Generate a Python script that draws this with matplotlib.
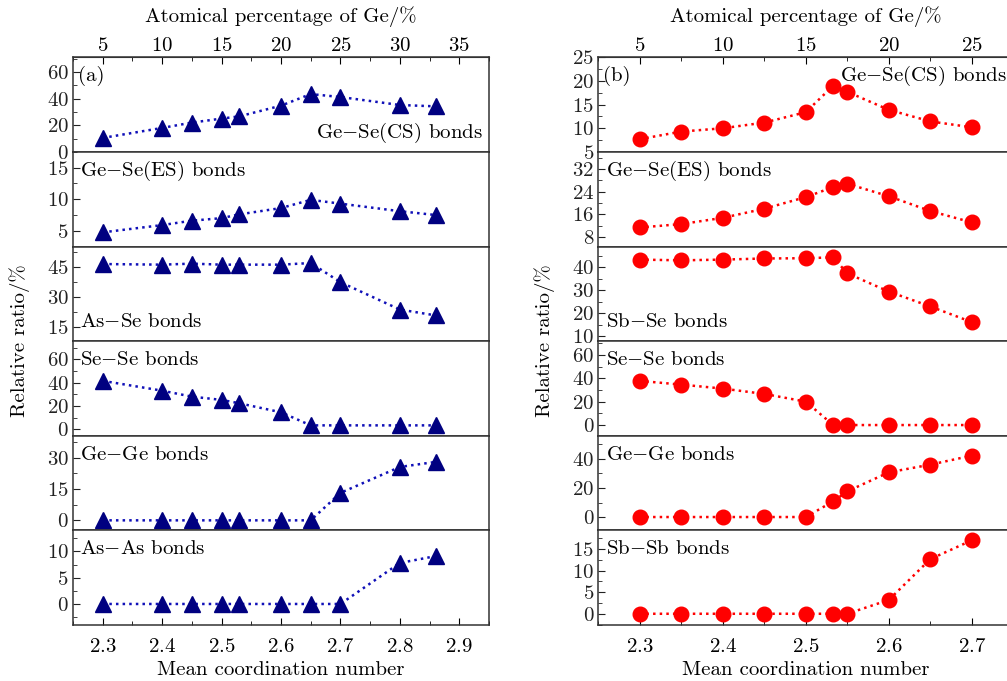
import matplotlib
matplotlib.use("Agg")
import matplotlib.pyplot as plt
from matplotlib.ticker import AutoMinorLocator, MultipleLocator

plt.rcParams['font.family'] = 'cmr10'
plt.rcParams['mathtext.fontset'] = 'cm'
plt.rcParams['axes.formatter.use_mathtext'] = True
plt.rcParams['font.size'] = 15

# panel (a): Ge-As-Se
z_a = [2.3, 2.4, 2.45, 2.5, 2.53, 2.6, 2.65, 2.7, 2.8, 2.86]
gese_cs_a = [10.5, 18, 22, 25, 26.7, 34.7, 43.4, 41.2, 35.2, 34.2]
gese_es_a = [4.75, 5.9, 6.6, 7.0, 7.6, 8.6, 9.9, 9.3, 8.1, 7.5]
asse_a = [46.3, 46, 46.5, 46, 46, 46, 46.8, 37.3, 23.7, 20.8]
sese_a = [41.5, 33.1, 28, 25.2, 22.3, 14.6, 3.4, 3.4, 3.4, 3.4]
gege_a = [0, 0, 0, 0, 0, 0, 0, 13.1, 25.5, 27.9]
asas_a = [0, 0, 0, 0, 0, 0, 0, 0, 7.8, 9.1]

# panel (b): Ge-Sb-Se
z_b = [2.3, 2.35, 2.4, 2.45, 2.5, 2.533, 2.55, 2.6, 2.65, 2.7]
gese_cs_b = [7.7, 9.3, 10.0, 11.2, 13.4, 19.0, 17.7, 13.9, 11.45, 10.2]
gese_es_b = [11.4, 12.6, 14.8, 18.0, 22.1, 25.6, 26.8, 22.4, 17.2, 13.2]
sbse_b = [43.3, 43.0, 43.3, 43.8, 43.9, 44.3, 37.3, 29.4, 22.9, 16.1]
sese_b = [37.9, 34.7, 31.3, 26.7, 20.1, 0, 0, 0, 0, 0]
gege_b = [0, 0, 0, 0, 0, 10.8, 17.7, 30.8, 36.1, 42.3]
sbsb_b = [0, 0, 0, 0, 0, 0, 0, 3.2, 12.65, 17.0]

labels_a = [r"Ge$-$Se(CS) bonds", r"Ge$-$Se(ES) bonds", r"As$-$Se bonds",
            r"Se$-$Se bonds", r"Ge$-$Ge bonds", r"As$-$As bonds"]
labels_b = [r"Ge$-$Se(CS) bonds", r"Ge$-$Se(ES) bonds", r"Sb$-$Se bonds",
            r"Se$-$Se bonds", r"Ge$-$Ge bonds", r"Sb$-$Sb bonds"]

ylims_a = [(0, 71), (2.5, 17.5), (8, 55), (-5.5, 75.5), (-4.8, 40.4), (-4, 14)]
yticks_a = [20, 5, 15, 20, 15, 5]
ylims_b = [(5, 25), (4.7, 38), (7.8, 49), (-9.2, 72), (-9.2, 56), (-2.6, 19.3)]
yticks_b = [5, 8, 10, 20, 20, 5]

ge_top_a = [5, 10, 15, 20, 25, 30, 35]
ge_top_b = [5, 10, 15, 20, 25]

# label placement per sub-panel: (x, y, ha) in axes fraction
pos_a = [(0.985, 0.2, 'right'), (0.018, 0.8, 'left'), (0.018, 0.2, 'left'),
         (0.018, 0.8, 'left'), (0.018, 0.8, 'left'), (0.018, 0.8, 'left')]
pos_b = [(0.985, 0.8, 'right'), (0.018, 0.8, 'left'), (0.018, 0.2, 'left'),
         (0.018, 0.8, 'left'), (0.018, 0.8, 'left'), (0.018, 0.8, 'left')]


def z2ge(z):
    return 5 + (z - 2.3) * 50


def ge2z(g):
    return 2.3 + (g - 5) / 50.0


fig = plt.figure(figsize=(10.07, 6.81), dpi=100)

spine_c = '#333333'


def make_column(left, width, xlim, xt, zs, series, labels, pos, ylims, ysteps,
                mk, mcol, lcol, ms, tag, ge_ticks):
    bottom = 56.0 / 681
    total = 567.7 / 681
    h = total / 6
    axes = []
    for i in range(6):
        ax = fig.add_axes([left, bottom + (5 - i) * h, width, h])
        ax.plot(zs, series[i], linestyle=':', color=lcol, lw=1.8,
                marker=mk, ms=ms, mfc=mcol, mec=mcol, clip_on=False, zorder=3)
        ax.set_xlim(*xlim)
        ax.set_ylim(*ylims[i])
        ax.yaxis.set_major_locator(MultipleLocator(ysteps[i]))
        ax.yaxis.set_minor_locator(AutoMinorLocator(2))
        ax.tick_params(axis='y', which='both', direction='in', right=False,
                       colors='#222222', pad=3)
        ax.tick_params(axis='y', which='major', length=5)
        ax.tick_params(axis='y', which='minor', length=3)
        ax.tick_params(axis='x', which='both', direction='in', top=False)
        for s in ax.spines.values():
            s.set_color(spine_c)
            s.set_linewidth(1.1)
        if i < 5:
            ax.tick_params(axis='x', which='both', bottom=False,
                           labelbottom=False)
        else:
            ax.set_xticks(xt)
            ax.xaxis.set_minor_locator(AutoMinorLocator(2))
            ax.tick_params(axis='x', which='major', length=5, pad=9)
            ax.tick_params(axis='x', which='minor', length=3)
            ax.set_xlabel("Mean coordination number", labelpad=4)
        px, py, ha = pos[i]
        ax.text(px, py, labels[i], transform=ax.transAxes, ha=ha, va='center')
        axes.append(ax)
    top = axes[0]
    top.text(0.012, 0.8, tag, transform=top.transAxes, ha='left', va='center')
    sec = top.secondary_xaxis('top', functions=(z2ge, ge2z))
    sec.set_xticks(ge_ticks)
    sec.xaxis.set_minor_locator(AutoMinorLocator(2))
    sec.tick_params(which='both', direction='in')
    sec.tick_params(which='major', length=5, pad=1.7)
    sec.tick_params(which='minor', length=3)
    sec.spines['top'].set_color(spine_c)
    sec.set_xlabel("Atomical percentage of Ge/%", labelpad=11)
    return axes


axes_a = make_column(73 / 1007, 416 / 1007, (2.25, 2.95),
                     [2.3, 2.4, 2.5, 2.6, 2.7, 2.8, 2.9], z_a,
                     [gese_cs_a, gese_es_a, asse_a, sese_a, gege_a, asas_a],
                     labels_a, pos_a, ylims_a, yticks_a, '^', '#000080',
                     '#1010b8', 12, "(a)", ge_top_a)
axes_b = make_column(598.3 / 1007, 415 / 1007, (2.25, 2.75),
                     [2.3, 2.4, 2.5, 2.6, 2.7], z_b,
                     [gese_cs_b, gese_es_b, sbse_b, sese_b, gege_b, sbsb_b],
                     labels_b, pos_b, ylims_b, yticks_b, 'o', '#ff0000',
                     '#ff0000', 10.5, "(b)", ge_top_b)

fig.text(20 / 1007, 1 - 341 / 681, "Relative ratio/%", rotation=90,
         ha='center', va='center')
fig.text(545 / 1007, 1 - 341 / 681, "Relative ratio/%", rotation=90,
         ha='center', va='center')

fig.savefig("out.png", dpi=100)
